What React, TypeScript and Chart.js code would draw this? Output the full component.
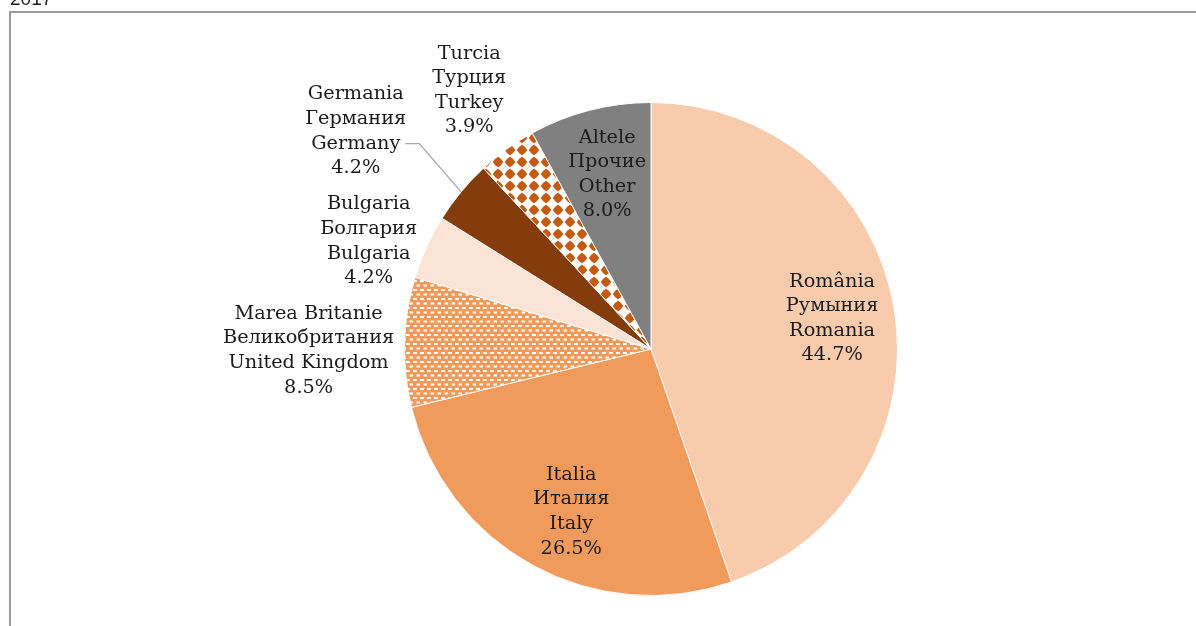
import React, { useEffect, useRef } from "react";
import { Chart, registerables } from "chart.js";
Chart.register(...registerables);

// ---- data ----
const namesRo = ["România", "Italia", "Marea Britanie", "Bulgaria", "Germania", "Turcia", "Altele"];
const namesRu = ["Румыния", "Италия", "Великобритания", "Болгария", "Германия", "Турция", "Прочие"];
const namesEn = ["Romania", "Italy", "United Kingdom", "Bulgaria", "Germany", "Turkey", "Other"];
const shares = [44.7, 26.5, 8.5, 4.2, 4.2, 3.9, 8.0];
const yearLabel = "2017";

// ---- style ----
const FONT = '"DejaVu Serif"';
const FONT_SIZE = 19.3;
const LH = 24.6;
const TEXT_COLOR = "#1a1a1a";

const labelPlacement = [
  { f: 0.745, da: 0 },
  { f: 0.735, da: -2.5 },
  { f: 1.389, da: -1.9 },
  { f: 1.226, da: -3.6 },
  { f: 1.488, da: -3.2, leader: true },
  { f: 1.282, da: 0.7 },
  { f: 0.73, da: 0.3 },
];

function makeDashPattern(bg: string) {
  const c = document.createElement("canvas");
  c.width = 7;
  c.height = 9;
  const g = c.getContext("2d")!;
  g.fillStyle = bg;
  g.fillRect(0, 0, 7, 9);
  g.fillStyle = "#ffffff";
  g.fillRect(0, 1, 3.8, 2);
  g.fillRect(3.5, 5.5, 3.8, 2);
  return g.createPattern(c, "repeat")!;
}

function makeDiamondPattern(fg: string) {
  const c = document.createElement("canvas");
  c.width = 12;
  c.height = 12;
  const g = c.getContext("2d")!;
  g.fillStyle = "#ffffff";
  g.fillRect(0, 0, 12, 12);
  g.fillStyle = fg;
  g.beginPath();
  g.moveTo(6, 0.6);
  g.lineTo(11.4, 6);
  g.lineTo(6, 11.4);
  g.lineTo(0.6, 6);
  g.closePath();
  g.fill();
  g.beginPath();
  g.arc(6, 6, 4.2, 0, Math.PI * 2);
  g.fill();
  return g.createPattern(c, "repeat")!;
}

const framePlugin = {
  id: "frame",
  beforeDraw(chart: any) {
    const ctx = chart.ctx;
    ctx.save();
    ctx.fillStyle = "#ffffff";
    ctx.fillRect(0, 0, chart.width, chart.height);
    ctx.strokeStyle = "#9b9b9b";
    ctx.lineWidth = 2;
    ctx.beginPath();
    ctx.moveTo(10, chart.height + 10);
    ctx.lineTo(10, 12);
    ctx.lineTo(chart.width + 10, 12);
    ctx.stroke();
    ctx.fillStyle = "#222222";
    ctx.font = '19px "Liberation Sans"';
    ctx.textBaseline = "alphabetic";
    ctx.fillText(yearLabel, 10, 5);
    ctx.restore();
  },
};

const labelPlugin = {
  id: "pieLabels",
  afterDatasetsDraw(chart: any) {
    const ctx = chart.ctx;
    const meta = chart.getDatasetMeta(0);
    ctx.save();
    ctx.font = `${FONT_SIZE}px ${FONT}`;
    ctx.fillStyle = TEXT_COLOR;
    ctx.textAlign = "center";
    ctx.textBaseline = "middle";
    meta.data.forEach((arc: any, i: number) => {
      const { x, y, startAngle, endAngle, outerRadius } = arc.getProps(
        ["x", "y", "startAngle", "endAngle", "outerRadius"],
        true
      );
      const p = labelPlacement[i];
      const midA = (startAngle + endAngle) / 2;
      const a = midA + (p.da * Math.PI) / 180;
      const r = outerRadius * p.f;
      const cx = x + Math.cos(a) * r;
      const cy = y + Math.sin(a) * r;
      const lines = [namesRo[i], namesRu[i], namesEn[i], shares[i].toFixed(1) + "%"];
      lines.forEach((t, k) => ctx.fillText(t, cx, cy + (k - 1.5) * LH));
      if (p.leader) {
        const ax = x + Math.cos(midA) * outerRadius;
        const ay = y + Math.sin(midA) * outerRadius;
        const ly = cy + 0.5 * LH;
        const lx = cx + ctx.measureText(lines[2]).width / 2 + 5;
        ctx.beginPath();
        ctx.moveTo(lx, ly);
        ctx.lineTo(lx + 14, ly);
        ctx.lineTo(ax, ay);
        ctx.strokeStyle = "#a6a6a6";
        ctx.lineWidth = 1.3;
        ctx.stroke();
      }
    });
    ctx.restore();
  },
};

export default function App() {
  const ref = useRef<HTMLCanvasElement | null>(null);
  useEffect(() => {
    const canvas = ref.current!;
    const colors = [
      "#F8CBAD",
      "#F09A5C",
      makeDashPattern("#F09A5C"),
      "#FBE4D5",
      "#843C0C",
      makeDiamondPattern("#C55A11"),
      "#808080",
    ];
    const chart = new Chart(canvas, {
      type: "pie",
      data: {
        labels: namesEn,
        datasets: [
          {
            data: shares,
            backgroundColor: colors as any,
            borderColor: "#ffffff",
            borderWidth: 1,
          },
        ],
      },
      options: {
        responsive: false,
        animation: false,
        layout: { padding: { top: 102, bottom: 30, left: 404, right: 298 } },
        plugins: { legend: { display: false }, tooltip: { enabled: false } },
      },
      plugins: [framePlugin, labelPlugin],
    });
    return () => chart.destroy();
  }, []);
  return (
    <div style={{ position: "fixed", left: 0, top: 0, width: 1196, height: 626, background: "#fff", overflow: "hidden" }}>
      <canvas ref={ref} width={1196} height={626} style={{ width: 1196, height: 626, display: "block" }} />
    </div>
  );
}
